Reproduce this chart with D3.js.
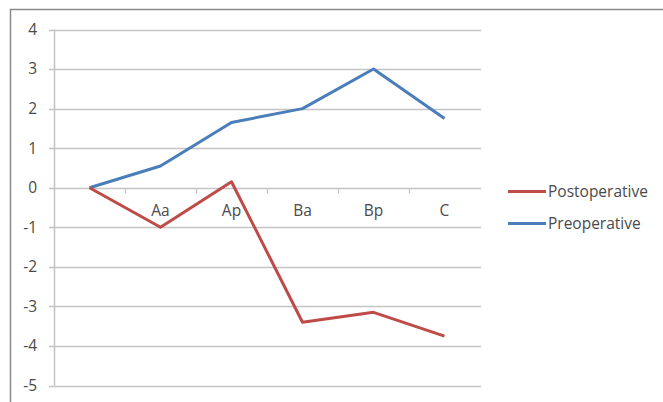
<!DOCTYPE html>
<html><head><meta charset="utf-8">
<script src="https://cdn.jsdelivr.net/npm/d3@7"></script>
<style>body{margin:0;background:#fff;}svg{display:block;}text{font-family:"Open Sans",Lato,sans-serif;fill:#4a4a4a;}</style>
</head><body>
<svg id="c" width="663" height="402"></svg>
<script>
const categories = ["", "Aa", "Ap", "Ba", "Bp", "C"];
const postoperative = [0, -1.0, 0.15, -3.4, -3.15, -3.75];
const preoperative = [0, 0.55, 1.65, 2.0, 3.0, 1.75];
const yTicks = [4, 3, 2, 1, 0, -1, -2, -3, -4, -5];
const seriesNames = ["Postoperative", "Preoperative"];
const colors = ["#BE4B48", "#4A7EBB"];

const svg = d3.select("#c");
// outer frame
svg.append("rect").attr("x",10.5).attr("y",9.5).attr("width",700).attr("height",500)
  .attr("fill","none").attr("stroke","#8a8a8a").attr("stroke-width",1.5);

const x = d3.scaleBand().domain(categories.map((d,i)=>i)).range([54,480]);
const y = d3.scaleLinear().domain([-5,4]).range([385.5,29.5]);

// gridlines
svg.append("g").selectAll("line").data(yTicks).join("line")
  .attr("x1",49).attr("x2",481).attr("y1",d=>Math.round(y(d))+0.5).attr("y2",d=>Math.round(y(d))+0.5)
  .attr("stroke","#c4c4c4").attr("stroke-width",1.5);
// y axis line
svg.append("line").attr("x1",54.5).attr("x2",54.5).attr("y1",y(4)).attr("y2",y(-5))
  .attr("stroke","#c4c4c4").attr("stroke-width",1.5);
// y labels
svg.append("g").selectAll("text").data(yTicks).join("text")
  .attr("x",37).attr("y",d=>y(d)).attr("dy","0.35em").attr("text-anchor","end")
  .style("font-size","15.5px").text(d=>d);
// x axis ticks at category boundaries along y=0
const y0 = Math.round(y(0))+0.5;
const bounds = d3.range(1, categories.length).map(i=>x(i));
svg.append("g").selectAll("line").data(bounds).join("line")
  .attr("x1",d=>d+0.5).attr("x2",d=>d+0.5).attr("y1",y0).attr("y2",y0+5)
  .attr("stroke","#c4c4c4").attr("stroke-width",1.2);
// x labels
svg.append("g").selectAll("text").data(categories).join("text")
  .attr("x",(d,i)=>x(i)+x.bandwidth()/2).attr("y",211).attr("dy","0.35em")
  .attr("text-anchor","middle").style("font-size","15.5px").text(d=>d);

const line = d3.line().x((d,i)=>x(i)+x.bandwidth()/2).y(d=>y(d));
[preoperative, postoperative].forEach((s,k)=>{
  svg.append("path").datum(s).attr("d",line).attr("fill","none")
    .attr("stroke", k===0?colors[1]:colors[0]).attr("stroke-width",3).attr("stroke-linejoin","round");
});

// legend
const ly = [191.5, 223.5];
seriesNames.forEach((n,i)=>{
  svg.append("line").attr("x1",508).attr("x2",546).attr("y1",ly[i]).attr("y2",ly[i])
    .attr("stroke",colors[i]).attr("stroke-width",3);
  svg.append("text").attr("x",548).attr("y",ly[i]).attr("dy","0.35em")
    .style("font-size","15.5px").text(n);
});
</script>
</body></html>
